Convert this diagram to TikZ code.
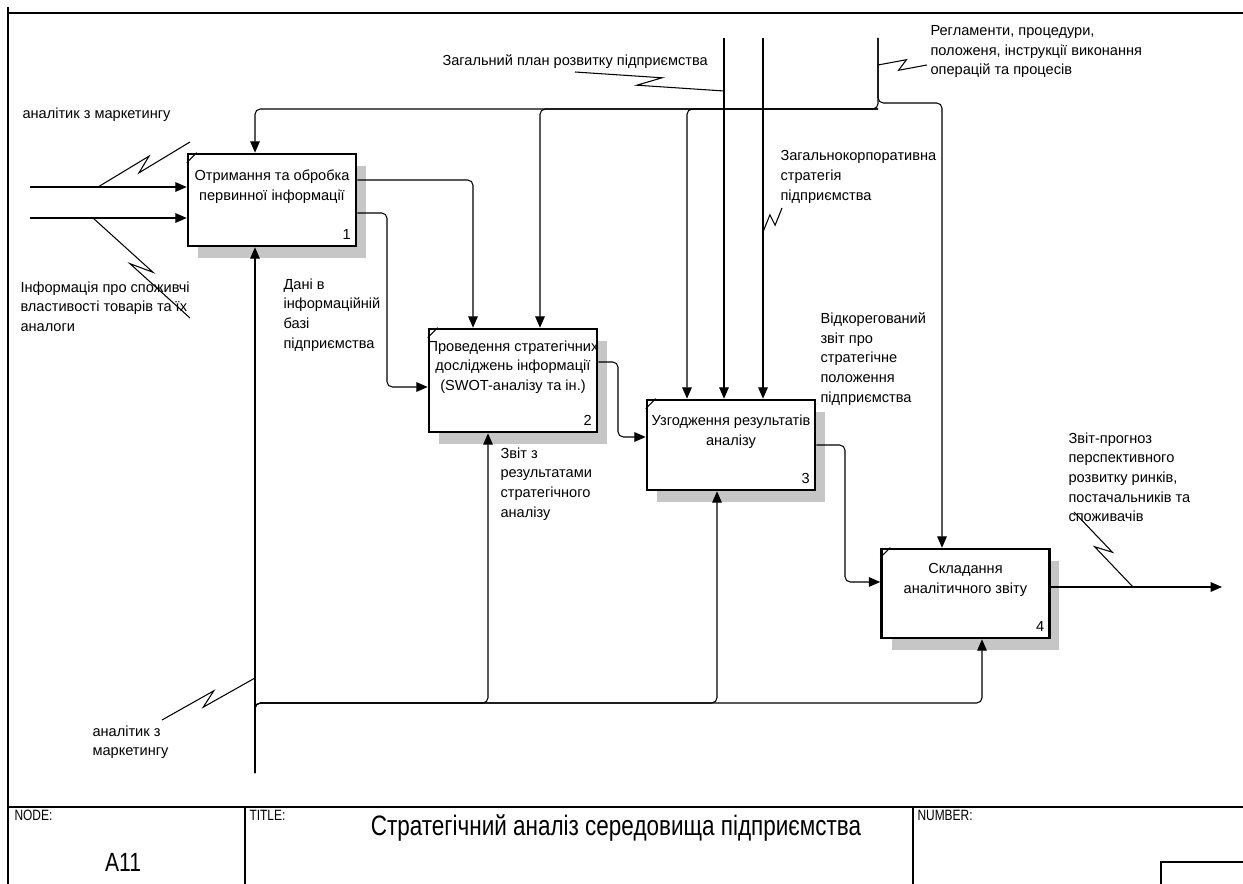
\documentclass[tikz,border=0pt]{standalone}
\usepackage{fontspec}
\setmainfont{Liberation Sans}
\newfontfamily\narrowfont{Liberation Sans}[FakeStretch=0.8]
\usetikzlibrary{arrows.meta,calc,shadows}

\tikzset{
  post/.style={-{Triangle[length=6.5pt,width=5.5pt]}, rounded corners=3pt},
  act/.style={draw, line width=1.5pt, fill=white, minimum width=3.36cm, inner sep=0pt,
    drop shadow={shadow xshift=0.2cm, shadow yshift=-0.24cm, opacity=1, fill=gray!45}},
  txt/.style={align=left, inner sep=0pt, font=\fontsize{8.3}{11.2}\selectfont},
  tag/.style={anchor=north west, inner sep=0pt, font=\narrowfont\fontsize{8.5}{10}\selectfont}
}
\newcommand\zig[2]{\draw (#1) -- ($(#1)!.58!(#2)!3pt!90:(#2)$) -- ($(#1)!.42!(#2)!3pt!-90:(#2)$) -- (#2);}

\begin{document}
\begin{tikzpicture}[x=0.02cm, y=-0.02cm, line width=0.6pt]

  \path[use as bounding box, fill=white] (0,0) rectangle (1243,884);

  \draw[line width=0.8pt] (8,7) -- (8,884) (8,13) -- (1243,13) (8,807) -- (1243,807)
    (245,807) -- (245,884) (913,807) -- (913,884) (1161,884) |- (1243,862);

  \foreach \n/\x/\y/\h/\t in {1/272/200/1.84/{Отримання та обробка\\первинної інформації},
      2/513/380.5/2.06/{Проведення стратегічних\\досліджень інформації\\(SWOT-аналізу та ін.)},
      3/731/445/1.80/{Узгодження результатів\\аналізу},
      4/965.5/593.5/1.78/{Складання\\аналітичного звіту}} {
    \node[act, minimum height=\h cm] (b\n) at (\x,\y) {};
    \node[txt, align=center] at ([yshift=0.27cm]b\n.center) {\t};
    \node[txt, anchor=south east] at ([shift={(-0.12cm,0.14cm)}]b\n.south east) {\n};
    \draw ([yshift=-0.2cm]b\n.north west) -- ([xshift=0.2cm]b\n.north west);
  }

  \coordinate (in1) at (30,187);
  \coordinate (in2) at (30,218);
  \coordinate (reg) at (878,38);
  \coordinate (jr) at (878,109);
  \coordinate (c2) at (540,109);
  \coordinate (c3) at (687,109);
  \coordinate (c4) at (942,103);
  \coordinate (plan) at (724,38);
  \coordinate (corp) at (763,38);
  \coordinate (o1) at (473,180);
  \coordinate (o2) at (387,213);
  \coordinate (k2) at (387,387);
  \coordinate (o3) at (618,362);
  \coordinate (k3) at (618,437);
  \coordinate (o4) at (845,445);
  \coordinate (k4) at (845,582);
  \coordinate (out) at (1222,587);
  \coordinate (m1) at (255,773);
  \coordinate (c5) at (488,703);
  \coordinate (c6) at (717,703);
  \coordinate (c7) at (982,703);

  \draw[post] (in1) -- (in1 -| b1.west);
  \draw[post] (in2) -- (in2 -| b1.west);
  \draw[post] (reg) -- (jr) -| (b1.north -| m1);
  \draw[post] (jr) -| (b2.north -| c2);
  \draw[post] (jr) -| (b3.north -| c3);
  \draw[post] (reg) |- (c4) -- (c4 |- b4.north);
  \draw[post] (plan) -- (plan |- b3.north);
  \draw[post] (corp) -- (corp |- b3.north);
  \draw[post] (b1.east |- o1) -| (b2.north -| o1);
  \draw[post] (b1.east |- o2) -- (o2) -- (k2) -- (k2 -| b2.west);
  \draw[post] (b2.east |- o3) -- (o3) -- (k3) -- (k3 -| b3.west);
  \draw[post] (b3.east |- o4) -- (o4) -- (k4) -- (k4 -| b4.west);
  \draw[post] (b4.east |- out) -- (out);
  \draw[post] (m1) -- (m1 |- b1.south);
  \draw[post] (m1) |- (c5) -- (c5 |- b2.south);
  \draw[post] (m1) |- (c6) -- (c6 |- b3.south);
  \draw[post] (m1) |- (c7) -- (c7 |- b4.south);

  \node[txt, anchor=north west] (lmark) at (22,107) {аналітик з маркетингу};
  \node[txt, anchor=north west] (linfo) at (20,281) {Інформація про споживчі\\властивості товарів та їх\\аналоги};
  \node[txt, anchor=north west] (ldata) at (283,278) {Дані в\\інформаційній\\базі\\підприємства};
  \node[txt, anchor=north west] (lplan) at (442,54) {Загальний план розвитку підприємства};
  \node[txt, anchor=north west] (lreg) at (930,25) {Регламенти, процедури,\\положеня, інструкції виконання\\операцій та процесів};
  \node[txt, anchor=north west] (lcorp) at (780,150) {Загальнокорпоративна\\стратегія\\підприємства};
  \node[txt, anchor=north west] (lfix) at (820,312) {Відкорегований\\звіт про\\стратегічне\\положення\\підприємства};
  \node[txt, anchor=north west] (lrep) at (500,447) {Звіт з\\результатами\\стратегічного\\аналізу};
  \node[txt, anchor=north west] (lprog) at (1068,432) {Звіт-прогноз\\перспективного\\розвитку ринків,\\постачальників та\\споживачів};
  \node[txt, anchor=north west] (lmark2) at (92,725) {аналітик з\\маркетингу};

  \coordinate (q1a) at (98,187);   \coordinate (q1b) at (190,142);
  \coordinate (q2a) at (93,218);   \coordinate (q2b) at (190,318);
  \coordinate (q3a) at (724,91);   \coordinate (q3b) at (575,72);
  \coordinate (q4a) at (878,65);   \coordinate (q4b) at (927,65);
  \coordinate (q5a) at (763,232);  \coordinate (q5b) at (782,208);
  \coordinate (q6a) at (1133,587); \coordinate (q6b) at (1074,512);
  \coordinate (q7a) at (255,678);  \coordinate (q7b) at (162,720);
  \foreach \q in {1,...,7} {\zig{q\q a}{q\q b}}

  \node[tag] (tnode) at (14,810) {NODE:};
  \node[tag] (ttitle) at (249,810) {TITLE:};
  \node[tag] (tnum) at (917,810) {NUMBER:};
  \node[inner sep=0pt, font=\narrowfont\fontsize{15}{17}\selectfont] (tid) at (123,862) {A11};
  \node[inner sep=0pt, font=\narrowfont\fontsize{16}{18}\selectfont] (title) at (616,828) {Стратегічний аналіз середовища підприємства};

\end{tikzpicture}
\end{document}
